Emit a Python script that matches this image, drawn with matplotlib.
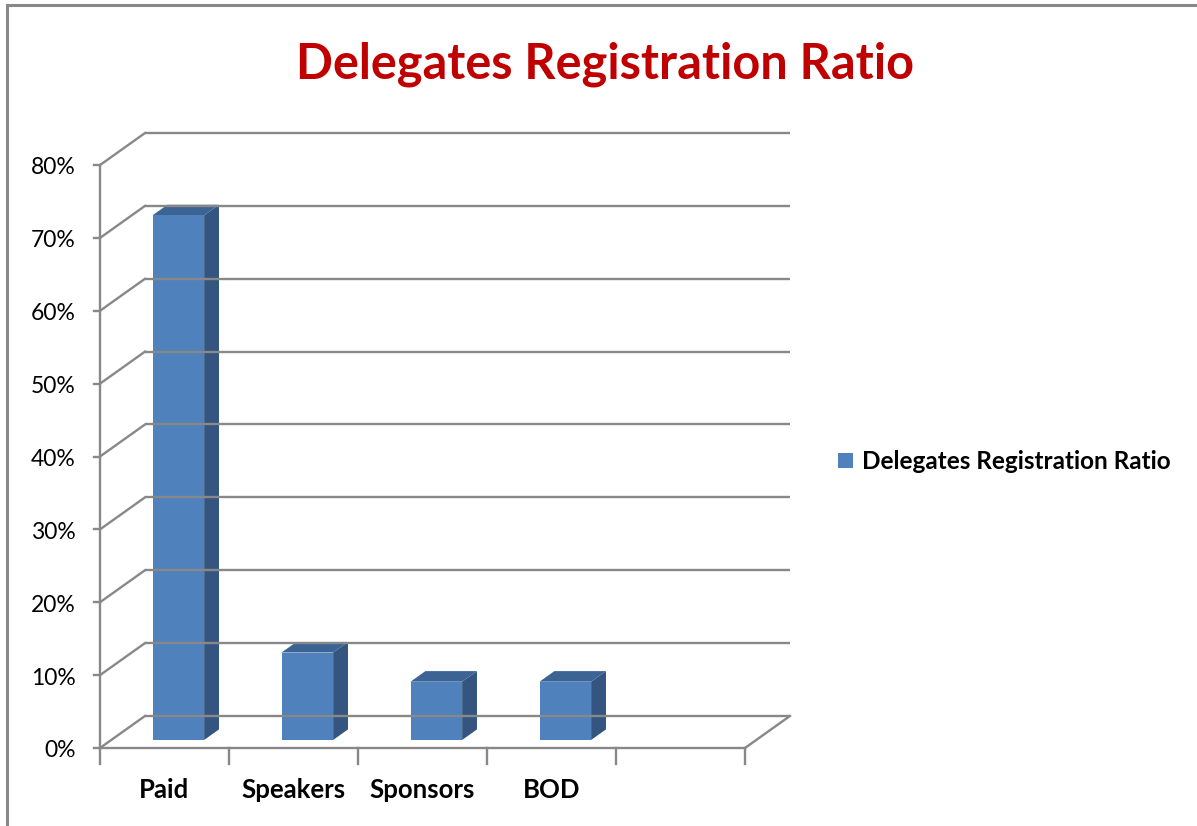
import numpy as np
import matplotlib.pyplot as plt
from matplotlib.patches import Polygon, Rectangle

categories = ["Paid", "Speakers", "Sponsors", "BOD", ""]
values = [0.72, 0.12, 0.08, 0.08, np.nan]
yticks = [0.0, 0.1, 0.2, 0.3, 0.4, 0.5, 0.6, 0.7, 0.8]
ytick_labels = ["0%", "10%", "20%", "30%", "40%", "50%", "60%", "70%", "80%"]
series_name = "Delegates Registration Ratio"
title = "Delegates Registration Ratio"

plt.rcParams['font.family'] = ['Lato', 'DejaVu Sans']

# colours
c_front = "#4F81BD"
c_side = "#33557F"
c_top = "#3B6394"
c_grid = "#888888"

# oblique depth offset (data units)
DX = 0.349
DY = 0.044
bar_w = 0.40
d0, d1 = 0.25, 0.58   # bar depth range (fraction of wall depth)

n = len(categories)
W, H = 1197, 826
fig = plt.figure(figsize=(W / 100, H / 100), dpi=100)
# axes: left at front axis, bottom at front floor
left, right, top, bottom = 100, 790, 133, 748
ax = fig.add_axes([left / W, (H - bottom) / H, (right - left) / W, (bottom - top) / H])
ax.set_xlim(0, n + DX)
ax.set_ylim(0, 0.8 + DY)
for s in ax.spines.values():
    s.set_visible(False)
ax.set_xticks([])
ax.set_yticks([])
ax.patch.set_alpha(0)

# back wall gridlines and side wall lines
for v, lab in zip(yticks, ytick_labels):
    ax.plot([DX, n + DX], [v + DY, v + DY], color=c_grid, lw=1.7, clip_on=False,
            solid_capstyle='butt')
    ax.plot([0, DX], [v, v + DY], color=c_grid, lw=1.7, clip_on=False)
    ax.plot([-0.05, 0], [v, v], color=c_grid, lw=1.7, clip_on=False)
    ax.text(-0.19, v - 0.004, lab, ha='right', va='center', fontsize=16.5,
            color='black')

# front vertical axis, floor edges
ax.plot([0, 0], [0, 0.8], color=c_grid, lw=1.7, clip_on=False)
ax.plot([0, n], [0, 0], color=c_grid, lw=1.7, clip_on=False)
ax.plot([n, n + DX], [0, DY], color=c_grid, lw=1.7, clip_on=False)
for i in range(n + 1):
    ax.plot([i, i], [0, -0.022], color=c_grid, lw=1.7, clip_on=False)

# bars
for i, (cat, val) in enumerate(zip(categories, values)):
    if cat:
        ax.text(i + 0.5, -0.057, cat, ha='center', va='center', fontsize=18.5,
                fontweight='bold', color='black')
    if np.isnan(val):
        continue
    x0 = i + 0.5 - bar_w / 2 + d0 * DX + 0.02
    y0 = d0 * DY
    ox, oy = (d1 - d0) * DX, (d1 - d0) * DY
    front = Rectangle((x0, y0), bar_w, val, facecolor=c_front, edgecolor='none')
    side = Polygon([(x0 + bar_w, y0), (x0 + bar_w + ox, y0 + oy),
                    (x0 + bar_w + ox, y0 + val + oy), (x0 + bar_w, y0 + val)],
                   closed=True, facecolor=c_side, edgecolor='none')
    topf = Polygon([(x0, y0 + val), (x0 + bar_w, y0 + val),
                    (x0 + bar_w + ox, y0 + val + oy), (x0 + ox, y0 + val + oy)],
                   closed=True, facecolor=c_top, edgecolor='none')
    for p in (side, topf, front):
        p.set_clip_on(False)
        ax.add_patch(p)

# title
fig.text(605 / W, 1 - 64 / H, title, ha='center', va='center', fontsize=35,
         fontweight='bold', color='#C00000')

# legend
fig.patches.append(Rectangle((838 / W, 1 - 468 / H), 15 / W, 15 / H,
                             transform=fig.transFigure, facecolor=c_front,
                             edgecolor='none'))
fig.text(862 / W, 1 - 461 / H, series_name, ha='left', va='center', fontsize=17.5,
         fontweight='bold', color='black')

# chart border
fig.patches.append(Rectangle((7 / W, -0.05), 1.1, 1 - 5 / H + 0.05,
                             transform=fig.transFigure, facecolor='none',
                             edgecolor='#888888', lw=2.2))

fig.savefig("out.png", dpi=100)
